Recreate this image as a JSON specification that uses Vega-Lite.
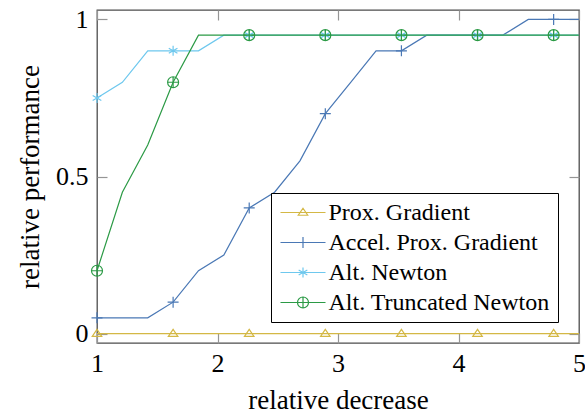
{
  "$schema": "https://vega.github.io/schema/vega-lite/v6.json",
  "width": 482,
  "height": 333,
  "autosize": {"type": "none"},
  "padding": {"left": 97, "top": 10, "right": 6, "bottom": 72},
  "background": "white",
  "config": {
    "view": {"stroke": "#4d4d4d", "strokeWidth": 1.3},
    "axis": {"grid": false, "domain": false, "ticks": true, "tickColor": "#959595", "tickWidth": 1.2, "tickSize": 10, "offset": -10, "labelFlush": false, "labelFont": "Liberation Serif", "labelFontSize": 26, "labelColor": "#000000", "titleFont": "Liberation Serif", "titleFontSize": 27, "titleFontWeight": "normal", "titleColor": "#000000"},
    "legend": {"labelFont": "Liberation Serif", "labelFontSize": 24, "labelColor": "#000000", "labelLimit": 0}
  },
  "datasets": {
    "perf": [
      {"s": "Prox. Gradient", "k": 0, "x": 1, "y": 0},
      {"s": "Prox. Gradient", "k": 1, "x": 1.2105, "y": 0},
      {"s": "Prox. Gradient", "k": 2, "x": 1.4211, "y": 0},
      {"s": "Prox. Gradient", "k": 3, "x": 1.6316, "y": 0},
      {"s": "Prox. Gradient", "k": 4, "x": 1.8421, "y": 0},
      {"s": "Prox. Gradient", "k": 5, "x": 2.0526, "y": 0},
      {"s": "Prox. Gradient", "k": 6, "x": 2.2632, "y": 0},
      {"s": "Prox. Gradient", "k": 7, "x": 2.4737, "y": 0},
      {"s": "Prox. Gradient", "k": 8, "x": 2.6842, "y": 0},
      {"s": "Prox. Gradient", "k": 9, "x": 2.8947, "y": 0},
      {"s": "Prox. Gradient", "k": 10, "x": 3.1053, "y": 0},
      {"s": "Prox. Gradient", "k": 11, "x": 3.3158, "y": 0},
      {"s": "Prox. Gradient", "k": 12, "x": 3.5263, "y": 0},
      {"s": "Prox. Gradient", "k": 13, "x": 3.7368, "y": 0},
      {"s": "Prox. Gradient", "k": 14, "x": 3.9474, "y": 0},
      {"s": "Prox. Gradient", "k": 15, "x": 4.1579, "y": 0},
      {"s": "Prox. Gradient", "k": 16, "x": 4.3684, "y": 0},
      {"s": "Prox. Gradient", "k": 17, "x": 4.5789, "y": 0},
      {"s": "Prox. Gradient", "k": 18, "x": 4.7895, "y": 0},
      {"s": "Prox. Gradient", "k": 19, "x": 5, "y": 0},
      {"s": "Accel. Prox. Gradient", "k": 0, "x": 1, "y": 0.05},
      {"s": "Accel. Prox. Gradient", "k": 1, "x": 1.2105, "y": 0.05},
      {"s": "Accel. Prox. Gradient", "k": 2, "x": 1.4211, "y": 0.05},
      {"s": "Accel. Prox. Gradient", "k": 3, "x": 1.6316, "y": 0.1},
      {"s": "Accel. Prox. Gradient", "k": 4, "x": 1.8421, "y": 0.2},
      {"s": "Accel. Prox. Gradient", "k": 5, "x": 2.0526, "y": 0.25},
      {"s": "Accel. Prox. Gradient", "k": 6, "x": 2.2632, "y": 0.4},
      {"s": "Accel. Prox. Gradient", "k": 7, "x": 2.4737, "y": 0.45},
      {"s": "Accel. Prox. Gradient", "k": 8, "x": 2.6842, "y": 0.55},
      {"s": "Accel. Prox. Gradient", "k": 9, "x": 2.8947, "y": 0.7},
      {"s": "Accel. Prox. Gradient", "k": 10, "x": 3.1053, "y": 0.8},
      {"s": "Accel. Prox. Gradient", "k": 11, "x": 3.3158, "y": 0.9},
      {"s": "Accel. Prox. Gradient", "k": 12, "x": 3.5263, "y": 0.9},
      {"s": "Accel. Prox. Gradient", "k": 13, "x": 3.7368, "y": 0.95},
      {"s": "Accel. Prox. Gradient", "k": 14, "x": 3.9474, "y": 0.95},
      {"s": "Accel. Prox. Gradient", "k": 15, "x": 4.1579, "y": 0.95},
      {"s": "Accel. Prox. Gradient", "k": 16, "x": 4.3684, "y": 0.95},
      {"s": "Accel. Prox. Gradient", "k": 17, "x": 4.5789, "y": 1},
      {"s": "Accel. Prox. Gradient", "k": 18, "x": 4.7895, "y": 1},
      {"s": "Accel. Prox. Gradient", "k": 19, "x": 5, "y": 1},
      {"s": "Alt. Newton", "k": 0, "x": 1, "y": 0.75},
      {"s": "Alt. Newton", "k": 1, "x": 1.2105, "y": 0.8},
      {"s": "Alt. Newton", "k": 2, "x": 1.4211, "y": 0.9},
      {"s": "Alt. Newton", "k": 3, "x": 1.6316, "y": 0.9},
      {"s": "Alt. Newton", "k": 4, "x": 1.8421, "y": 0.9},
      {"s": "Alt. Newton", "k": 5, "x": 2.0526, "y": 0.95},
      {"s": "Alt. Newton", "k": 6, "x": 2.2632, "y": 0.95},
      {"s": "Alt. Newton", "k": 7, "x": 2.4737, "y": 0.95},
      {"s": "Alt. Newton", "k": 8, "x": 2.6842, "y": 0.95},
      {"s": "Alt. Newton", "k": 9, "x": 2.8947, "y": 0.95},
      {"s": "Alt. Newton", "k": 10, "x": 3.1053, "y": 0.95},
      {"s": "Alt. Newton", "k": 11, "x": 3.3158, "y": 0.95},
      {"s": "Alt. Newton", "k": 12, "x": 3.5263, "y": 0.95},
      {"s": "Alt. Newton", "k": 13, "x": 3.7368, "y": 0.95},
      {"s": "Alt. Newton", "k": 14, "x": 3.9474, "y": 0.95},
      {"s": "Alt. Newton", "k": 15, "x": 4.1579, "y": 0.95},
      {"s": "Alt. Newton", "k": 16, "x": 4.3684, "y": 0.95},
      {"s": "Alt. Newton", "k": 17, "x": 4.5789, "y": 0.95},
      {"s": "Alt. Newton", "k": 18, "x": 4.7895, "y": 0.95},
      {"s": "Alt. Newton", "k": 19, "x": 5, "y": 0.95},
      {"s": "Alt. Truncated Newton", "k": 0, "x": 1, "y": 0.2},
      {"s": "Alt. Truncated Newton", "k": 1, "x": 1.2105, "y": 0.45},
      {"s": "Alt. Truncated Newton", "k": 2, "x": 1.4211, "y": 0.6},
      {"s": "Alt. Truncated Newton", "k": 3, "x": 1.6316, "y": 0.8},
      {"s": "Alt. Truncated Newton", "k": 4, "x": 1.8421, "y": 0.95},
      {"s": "Alt. Truncated Newton", "k": 5, "x": 2.0526, "y": 0.95},
      {"s": "Alt. Truncated Newton", "k": 6, "x": 2.2632, "y": 0.95},
      {"s": "Alt. Truncated Newton", "k": 7, "x": 2.4737, "y": 0.95},
      {"s": "Alt. Truncated Newton", "k": 8, "x": 2.6842, "y": 0.95},
      {"s": "Alt. Truncated Newton", "k": 9, "x": 2.8947, "y": 0.95},
      {"s": "Alt. Truncated Newton", "k": 10, "x": 3.1053, "y": 0.95},
      {"s": "Alt. Truncated Newton", "k": 11, "x": 3.3158, "y": 0.95},
      {"s": "Alt. Truncated Newton", "k": 12, "x": 3.5263, "y": 0.95},
      {"s": "Alt. Truncated Newton", "k": 13, "x": 3.7368, "y": 0.95},
      {"s": "Alt. Truncated Newton", "k": 14, "x": 3.9474, "y": 0.95},
      {"s": "Alt. Truncated Newton", "k": 15, "x": 4.1579, "y": 0.95},
      {"s": "Alt. Truncated Newton", "k": 16, "x": 4.3684, "y": 0.95},
      {"s": "Alt. Truncated Newton", "k": 17, "x": 4.5789, "y": 0.95},
      {"s": "Alt. Truncated Newton", "k": 18, "x": 4.7895, "y": 0.95},
      {"s": "Alt. Truncated Newton", "k": 19, "x": 5, "y": 0.95}
    ]
  },
  "data": {"name": "perf"},
  "layer": [
    {
      "mark": {"type": "line", "strokeWidth": 1.2},
      "encoding": {
        "x": {"field": "x", "type": "quantitative", "scale": {"domain": [1, 5], "nice": false, "zero": false},
              "axis": {"orient": "bottom", "values": [1, 2, 3, 4, 5], "format": "d", "labelPadding": 7, "title": "relative decrease", "titleY": 75, "titleBaseline": "alphabetic"}},
        "y": {"field": "y", "type": "quantitative", "scale": {"domain": [-0.03, 1.03], "nice": false, "zero": false},
              "axis": {"orient": "left", "values": [0, 0.5, 1], "format": "~g", "labelPadding": 9, "title": "relative performance", "titleX": -69, "titleBaseline": "alphabetic"}},
        "color": {"field": "s", "type": "nominal",
                  "scale": {"domain": ["Prox. Gradient", "Accel. Prox. Gradient", "Alt. Newton", "Alt. Truncated Newton"], "range": ["#d4b845", "#4a78b5", "#6ec8ee", "#2b9a45"]}},
        "order": {"field": "k", "type": "quantitative"},
        "detail": {"field": "s"}
      }
    },
    {
      "transform": [{"filter": "datum.k % 3 == 0 && datum.s == 'Prox. Gradient'"}],
      "mark": {"type": "point", "filled": false, "opacity": 1, "strokeWidth": 1.2, "size": 100, "shape": "M0,-0.85L0.95,0.55L-0.95,0.55Z"},
      "encoding": {
        "x": {"field": "x", "type": "quantitative", "axis": {"orient": "top", "values": [1, 2, 3, 4, 5], "labels": false, "title": null}},
        "y": {"field": "y", "type": "quantitative", "axis": {"orient": "right", "values": [0, 0.5, 1], "labels": false, "title": null}},
        "color": {"field": "s", "type": "nominal"}
      }
    },
    {
      "transform": [{"filter": "datum.k % 3 == 0 && datum.s == 'Accel. Prox. Gradient'"}],
      "mark": {"type": "point", "filled": false, "opacity": 1, "strokeWidth": 1.2, "size": 100, "shape": "M-1.1,0H1.1M0,-1.1V1.1"},
      "encoding": {
        "x": {"field": "x", "type": "quantitative", "axis": null},
        "y": {"field": "y", "type": "quantitative", "axis": null},
        "color": {"field": "s", "type": "nominal"}
      }
    },
    {
      "transform": [{"filter": "datum.k % 3 == 0 && datum.s == 'Alt. Newton'"}],
      "mark": {"type": "point", "filled": false, "opacity": 1, "strokeWidth": 1.2, "size": 100, "shape": "M0,-1V1M-0.866,-0.5L0.866,0.5M-0.866,0.5L0.866,-0.5"},
      "encoding": {
        "x": {"field": "x", "type": "quantitative", "axis": null},
        "y": {"field": "y", "type": "quantitative", "axis": null},
        "color": {"field": "s", "type": "nominal"}
      }
    },
    {
      "transform": [{"filter": "datum.k % 3 == 0 && datum.s == 'Alt. Truncated Newton'"}],
      "mark": {"type": "point", "filled": false, "opacity": 1, "strokeWidth": 1.2, "size": 100, "shape": "M1.1,0A1.1,1.1 0 1,1 -1.1,0A1.1,1.1 0 1,1 1.1,0ZM-1.1,0H1.1M0,-1.1V1.1"},
      "encoding": {
        "x": {"field": "x", "type": "quantitative", "axis": null},
        "y": {"field": "y", "type": "quantitative", "axis": null},
        "color": {"field": "s", "type": "nominal"}
      }
    },
    {
      "transform": [{"filter": "datum.k == 0"}],
      "mark": {"type": "point", "filled": false, "strokeWidth": 1.2, "size": 100, "opacity": 0},
      "encoding": {
        "x": {"field": "x", "type": "quantitative", "axis": null},
        "y": {"field": "y", "type": "quantitative", "axis": null},
        "color": {"field": "s", "type": "nominal",
                  "legend": {"title": null, "orient": "none", "legendX": 174, "legendY": 183, "padding": 7.5, "strokeColor": "#000000", "fillColor": "#ffffff", "symbolOpacity": 1, "symbolStrokeWidth": 1.2, "symbolSize": 100, "labelOffset": 26, "rowPadding": 6, "symbolFillColor": "transparent", "labelLimit": 0}},
        "shape": {"field": "s", "type": "nominal",
                  "scale": {"domain": ["Prox. Gradient", "Accel. Prox. Gradient", "Alt. Newton", "Alt. Truncated Newton"],
                            "range": ["M-2,0H7M2.5,-0.85L3.45,0.55L1.55,0.55Z", "M-2,0H7M2.5,-1.1V1.1", "M-2,0H7M2.5,-1V1M1.634,-0.5L3.366,0.5M1.634,0.5L3.366,-0.5", "M-2,0H7M3.6,0A1.1,1.1 0 1,1 1.4,0A1.1,1.1 0 1,1 3.6,0M2.5,-1.1V1.1"]},
                  "legend": {"title": null, "orient": "none", "legendX": 174, "legendY": 183}}
      }
    }
  ]
}
